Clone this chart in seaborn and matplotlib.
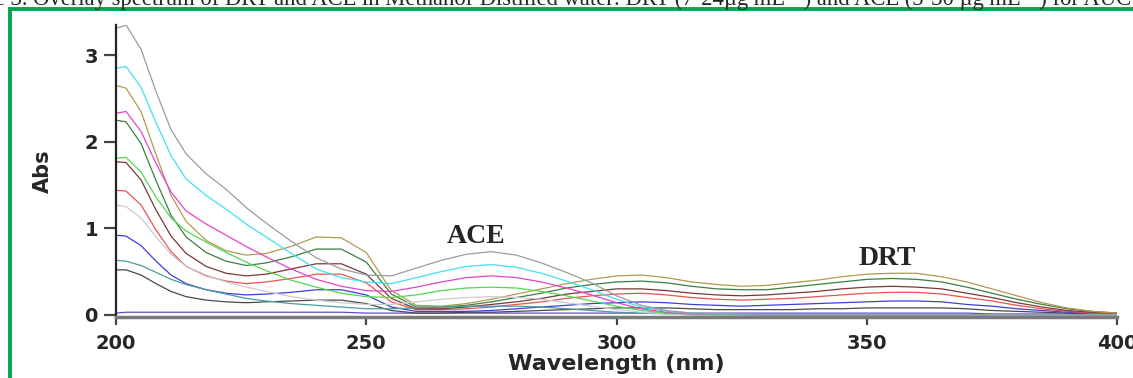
import pandas as pd
import matplotlib
matplotlib.use('Agg')
import matplotlib.pyplot as plt
import seaborn as sns
from matplotlib.patches import Rectangle

# wavelengths (nm) shared by every scan
wavelength = [200, 202, 205, 208, 211, 214, 218, 222, 226, 230,
              235, 240, 245, 250, 255, 260, 265, 270, 275, 280,
              285, 290, 295, 300, 305, 310, 315, 320, 325, 330,
              335, 340, 345, 350, 355, 360, 365, 370, 375, 380,
              385, 390, 395, 400]

# ACE scans (absorbance read from the overlay)
ace_1 = [3.31, 3.35, 3.07, 2.58, 2.14, 1.86, 1.63, 1.45, 1.24, 1.06,
         0.85, 0.66, 0.53, 0.46, 0.45, 0.54, 0.63, 0.70, 0.73, 0.69,
         0.60, 0.49, 0.37, 0.22, 0.11, 0.05, 0.02, 0.01, 0.01, 0.00,
         0.00, 0.00, 0.00, 0.00, 0.00, 0.00, 0.00, 0.00, 0.00, 0.00,
         0.00, 0.00, 0.00, 0.00]
ace_2 = [2.85, 2.87, 2.63, 2.22, 1.84, 1.57, 1.38, 1.22, 1.05, 0.90,
         0.71, 0.53, 0.43, 0.38, 0.36, 0.43, 0.50, 0.56, 0.58, 0.55,
         0.48, 0.39, 0.29, 0.18, 0.09, 0.04, 0.02, 0.01, 0.00, 0.00,
         0.00, 0.00, 0.00, 0.00, 0.00, 0.00, 0.00, 0.00, 0.00, 0.00,
         0.00, 0.00, 0.00, 0.00]
ace_3 = [2.33, 2.35, 2.12, 1.75, 1.42, 1.20, 1.05, 0.92, 0.79, 0.67,
         0.53, 0.41, 0.33, 0.28, 0.27, 0.32, 0.38, 0.43, 0.45, 0.43,
         0.38, 0.31, 0.23, 0.14, 0.07, 0.03, 0.01, 0.01, 0.00, 0.00,
         0.00, 0.00, 0.00, 0.00, 0.00, 0.00, 0.00, 0.00, 0.00, 0.00,
         0.00, 0.00, 0.00, 0.00]
ace_4 = [1.81, 1.82, 1.65, 1.36, 1.12, 0.97, 0.84, 0.72, 0.61, 0.51,
         0.40, 0.32, 0.25, 0.21, 0.20, 0.23, 0.28, 0.31, 0.32, 0.31,
         0.27, 0.22, 0.16, 0.10, 0.05, 0.02, 0.01, 0.00, 0.00, 0.00,
         0.00, 0.00, 0.00, 0.00, 0.00, 0.00, 0.00, 0.00, 0.00, 0.00,
         0.00, 0.00, 0.00, 0.00]
ace_5 = [1.27, 1.25, 1.12, 0.90, 0.70, 0.56, 0.46, 0.38, 0.32, 0.27,
         0.21, 0.17, 0.14, 0.12, 0.12, 0.15, 0.18, 0.20, 0.21, 0.20,
         0.18, 0.14, 0.10, 0.06, 0.03, 0.01, 0.00, 0.00, 0.00, 0.00,
         0.00, 0.00, 0.00, 0.00, 0.00, 0.00, 0.00, 0.00, 0.00, 0.00,
         0.00, 0.00, 0.00, 0.00]
ace_6 = [0.63, 0.62, 0.57, 0.49, 0.41, 0.35, 0.29, 0.24, 0.19, 0.16,
         0.13, 0.11, 0.09, 0.07, 0.07, 0.08, 0.09, 0.10, 0.10, 0.10,
         0.09, 0.07, 0.05, 0.03, 0.02, 0.01, 0.00, 0.00, 0.00, 0.00,
         0.00, 0.00, 0.00, 0.00, 0.00, 0.00, 0.00, 0.00, 0.00, 0.00,
         0.00, 0.00, 0.00, 0.00]

# DRT scans
drt_1 = [2.65, 2.62, 2.35, 1.85, 1.38, 1.08, 0.86, 0.74, 0.69, 0.71,
         0.79, 0.90, 0.89, 0.72, 0.28, 0.11, 0.10, 0.13, 0.18, 0.24,
         0.30, 0.36, 0.41, 0.45, 0.46, 0.43, 0.38, 0.35, 0.33, 0.34,
         0.37, 0.40, 0.44, 0.47, 0.48, 0.48, 0.44, 0.38, 0.30, 0.22,
         0.14, 0.08, 0.04, 0.02]
drt_2 = [2.25, 2.23, 1.98, 1.55, 1.15, 0.90, 0.72, 0.62, 0.57, 0.60,
         0.67, 0.76, 0.76, 0.61, 0.24, 0.09, 0.09, 0.11, 0.15, 0.20,
         0.25, 0.31, 0.35, 0.38, 0.39, 0.37, 0.33, 0.30, 0.29, 0.29,
         0.32, 0.35, 0.38, 0.41, 0.42, 0.41, 0.38, 0.32, 0.25, 0.18,
         0.12, 0.07, 0.04, 0.02]
drt_3 = [1.77, 1.76, 1.56, 1.21, 0.91, 0.71, 0.56, 0.48, 0.45, 0.47,
         0.53, 0.59, 0.59, 0.47, 0.19, 0.07, 0.07, 0.09, 0.12, 0.15,
         0.19, 0.24, 0.27, 0.30, 0.30, 0.28, 0.25, 0.23, 0.22, 0.23,
         0.25, 0.27, 0.30, 0.32, 0.33, 0.32, 0.30, 0.25, 0.20, 0.14,
         0.09, 0.05, 0.03, 0.02]
drt_4 = [1.44, 1.43, 1.27, 0.98, 0.73, 0.56, 0.45, 0.39, 0.36, 0.38,
         0.42, 0.47, 0.47, 0.37, 0.15, 0.06, 0.06, 0.07, 0.09, 0.12,
         0.15, 0.19, 0.22, 0.24, 0.25, 0.23, 0.20, 0.18, 0.17, 0.18,
         0.19, 0.21, 0.23, 0.25, 0.26, 0.26, 0.24, 0.20, 0.16, 0.11,
         0.07, 0.04, 0.02, 0.01]
drt_5 = [0.92, 0.91, 0.80, 0.62, 0.46, 0.36, 0.29, 0.25, 0.23, 0.24,
         0.26, 0.29, 0.29, 0.23, 0.09, 0.04, 0.04, 0.04, 0.05, 0.07,
         0.09, 0.11, 0.13, 0.14, 0.15, 0.14, 0.12, 0.11, 0.10, 0.11,
         0.12, 0.13, 0.14, 0.15, 0.16, 0.16, 0.15, 0.12, 0.10, 0.07,
         0.05, 0.03, 0.02, 0.01]
drt_6 = [0.52, 0.52, 0.46, 0.36, 0.27, 0.21, 0.17, 0.15, 0.14, 0.15,
         0.16, 0.17, 0.17, 0.13, 0.05, 0.02, 0.02, 0.03, 0.03, 0.04,
         0.05, 0.06, 0.07, 0.08, 0.08, 0.08, 0.07, 0.06, 0.06, 0.06,
         0.06, 0.07, 0.07, 0.08, 0.08, 0.08, 0.08, 0.07, 0.05, 0.04,
         0.03, 0.02, 0.01, 0.01]

blank = [0.02, 0.03, 0.03, 0.03, 0.03, 0.03, 0.03, 0.03, 0.03, 0.03,
         0.03, 0.03, 0.03, 0.02, 0.02, 0.02, 0.02, 0.02, 0.02, 0.02,
         0.02, 0.02, 0.02, 0.02, 0.02, 0.02, 0.02, 0.02, 0.02, 0.02,
         0.02, 0.02, 0.02, 0.02, 0.02, 0.02, 0.02, 0.02, 0.01, 0.01,
         0.01, 0.01, 0.01, 0.01]

scans = {
    'blank': blank,
    'DRT 6': drt_6, 'DRT 5': drt_5, 'DRT 4': drt_4,
    'DRT 3': drt_3, 'DRT 2': drt_2, 'DRT 1': drt_1,
    'ACE 6': ace_6, 'ACE 5': ace_5, 'ACE 4': ace_4,
    'ACE 3': ace_3, 'ACE 2': ace_2, 'ACE 1': ace_1,
}
colors = {
    'blank': '#5b4fc8',
    'DRT 6': '#4a4a4a', 'DRT 5': '#3f3fd8', 'DRT 4': '#ec5252',
    'DRT 3': '#7a3838', 'DRT 2': '#3c7e44', 'DRT 1': '#b09a52',
    'ACE 6': '#4c9c9a', 'ACE 5': '#cccccc', 'ACE 4': '#52d852',
    'ACE 3': '#e444c8', 'ACE 2': '#3ee2ee', 'ACE 1': '#9c9c9c',
}

rows = []
for name, vals in scans.items():
    for w, a in zip(wavelength, vals):
        rows.append({'Wavelength': w, 'Abs': a, 'scan': name})
df = pd.DataFrame(rows)

sns.set_style('ticks')
plt.rcParams['font.family'] = ['DejaVu Sans']

fig = plt.figure(figsize=(11.33, 3.78), dpi=100)
ax = fig.add_axes([0.1024, 0.1614, 0.8835, 0.7725])

sns.lineplot(data=df, x='Wavelength', y='Abs', hue='scan', hue_order=list(scans),
             palette=colors, legend=False, linewidth=0.9, estimator=None,
             errorbar=None, ax=ax)

ax.set_xlim(200, 400)
ax.set_ylim(-0.025, 3.35)
ax.set_xticks([200, 250, 300, 350, 400])
ax.set_yticks([0, 1, 2, 3])
sns.despine(ax=ax)
ax.spines['left'].set_linewidth(1.6)
ax.spines['left'].set_color('#222222')
ax.spines['bottom'].set_linewidth(2.5)
ax.spines['bottom'].set_color('#7a7a7a')
ax.tick_params(axis='x', direction='out', length=6, width=1.6, pad=6,
               labelsize=14, color='#444444')
ax.tick_params(axis='y', direction='out', length=9, width=1.6, pad=4,
               labelsize=14, color='#444444')
for lab in ax.get_xticklabels() + ax.get_yticklabels():
    lab.set_fontweight('bold')

ax.set_xlabel('Wavelength (nm)', fontsize=16, fontweight='bold')
ax.set_ylabel('Abs', fontsize=15, fontweight='bold')
ax.xaxis.set_label_coords(0.5, -0.128)
ax.yaxis.set_label_coords(-0.063, 0.5)

ax.text(272, 0.90, 'ACE', family=['Liberation Serif', 'DejaVu Serif'],
        fontsize=20, fontweight='bold', ha='center', va='center')
ax.text(354, 0.65, 'DRT', family=['Liberation Serif', 'DejaVu Serif'],
        fontsize=20, fontweight='bold', ha='center', va='center')

# caption from the page, cut by the top edge
fig.text(-0.0477, 1 - 5 / 378,
         'Figure 3. Overlay spectrum of DRT and ACE in Methanol-Distilled water: '
         'DRT (7-24µg mL⁻¹) and ACE (5-30 µg mL⁻¹) for AUC',
         family=['Liberation Serif', 'DejaVu Serif'], fontsize=16.3,
         ha='left', va='baseline')

# green frame of the figure box
fig.add_artist(Rectangle((10 / 1133, -0.1), 1.2, 1.077, transform=fig.transFigure,
                         fill=False, edgecolor='#00a650', linewidth=2.8))

fig.savefig('out.png', dpi=100)
